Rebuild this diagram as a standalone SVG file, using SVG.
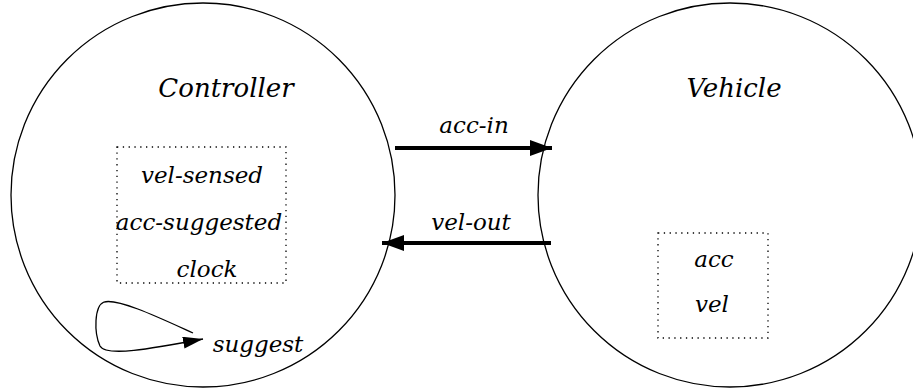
<svg xmlns="http://www.w3.org/2000/svg" width="913" height="390" viewBox="0 0 913 390">
<style>
.c{fill:none;stroke:#000;stroke-width:1.3}
.box{fill:none;stroke:#000;stroke-width:1.3;stroke-dasharray:1.3 4.5}
text{font-family:'DejaVu Serif',serif;font-style:italic;fill:#000;text-anchor:middle}
.t{font-size:26px}
.s{font-size:23px}
.a{fill:none;stroke:#000;stroke-width:4}
</style>
<defs>
<marker id="ah" markerUnits="userSpaceOnUse" markerWidth="24" markerHeight="18" refX="22" refY="8" orient="auto">
<path d="M0,0 L22,8 L0,16 Z" fill="#000"/>
</marker>
<marker id="ahs" markerUnits="userSpaceOnUse" markerWidth="22" markerHeight="14" refX="20" refY="6" orient="auto">
<path d="M0,0 L20,6 L0,12 Z" fill="#000"/>
</marker>
</defs>
<rect width="913" height="390" fill="#fff"/>
<g id="controller">
<circle class="c" cx="203" cy="195" r="192"/>
<text class="t" x="226" y="97">Controller</text>
<rect class="box" x="117" y="147" width="169" height="136"/>
<text class="s" x="202" y="183">vel-sensed</text>
<text class="s" x="199" y="230">acc-suggested</text>
<text class="s" x="207" y="277">clock</text>
<text class="s" x="258" y="352">suggest</text>
</g>
<g id="vehicle">
<circle class="c" cx="730" cy="195" r="192"/>
<text class="t" x="734" y="97">Vehicle</text>
<rect class="box" x="658" y="233" width="110" height="105"/>
<text class="s" x="714" y="267">acc</text>
<text class="s" x="712" y="312">vel</text>
</g>
<g id="connectors">
<line class="a" x1="395" y1="148" x2="552" y2="148" marker-end="url(#ah)"/>
<text class="s" x="474" y="133">acc-in</text>
<line class="a" x1="551" y1="243" x2="382" y2="243" marker-end="url(#ah)"/>
<text class="s" x="471" y="230">vel-out</text>
<path class="c" stroke-width="1.5" d="M193,333 C160,318 118,298 104,302 C94,306 94,333 100,346 C106,357 150,349 203,339" marker-end="url(#ahs)"/>
</g>
</svg>
